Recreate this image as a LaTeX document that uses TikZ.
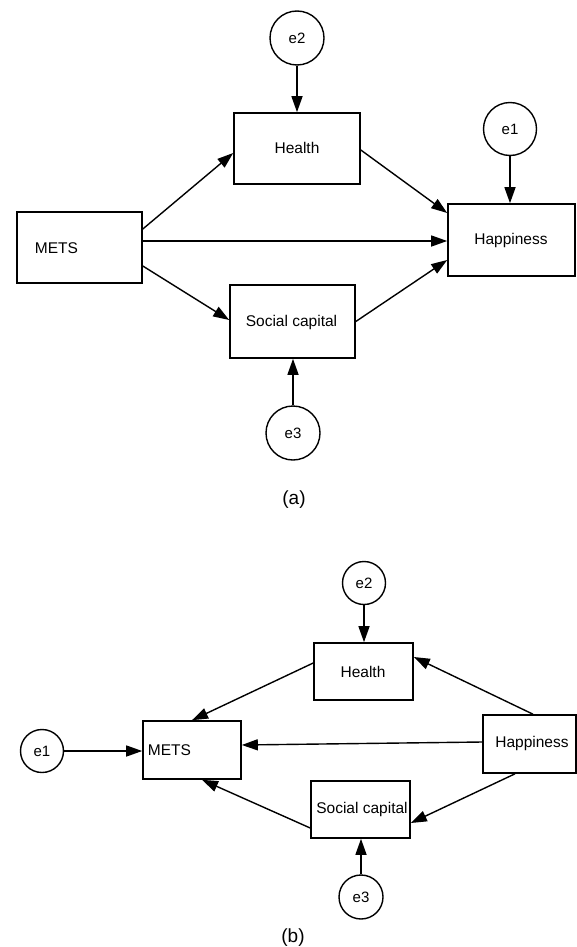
\documentclass[tikz,border=0pt]{standalone}
\usepackage{fontspec}
\setmainfont{Liberation Sans}
\usetikzlibrary{arrows.meta}
\begin{document}
\begin{tikzpicture}[x=1pt,y=-1pt,
  box/.style={draw, line width=1.6pt, rectangle, inner sep=0pt},
  err/.style={draw, line width=1.4pt, circle, inner sep=0pt, font=\fontsize{15}{18}\selectfont},
  lbl/.style={inner sep=0pt, font=\fontsize{15.5}{18}\selectfont},
  captext/.style={inner sep=0pt, font=\fontsize{19}{22}\selectfont},
  arr/.style={line width=1.4pt, -{Triangle[length=16pt,width=11pt]}}]
\useasboundingbox (0,0) rectangle (576,947);
% ---------- (a) ----------
\node[box, minimum width=125pt, minimum height=71pt] (metsA) at (79.5,247.5) {};
\node[lbl] (metsAt) at (56.5,248) {METS};
\node[box, minimum width=126pt, minimum height=71pt] (healthA) at (297,148.5) {};
\node[lbl] (healthAt) at (297,148) {Health};
\node[box, minimum width=127pt, minimum height=72pt] (happyA) at (511.5,240) {};
\node[lbl] (happyAt) at (511,240) {Happiness};
\node[box, minimum width=125pt, minimum height=73pt] (socA) at (292.5,321.5) {};
\node[lbl] (socAt) at (291.5,322) {Social capital};
\node[err, minimum size=54pt] (e2A) at (297,38) {e2};
\node[err, minimum size=53pt] (e1A) at (510,129) {e1};
\node[err, minimum size=54pt] (e3A) at (293,433) {e3};
\node[captext] (capA) at (294,500) {(a)};
\draw[arr] ([yshift=18.5pt]metsA.east) -- ([yshift=-4.5pt]healthA.west);
\draw[arr] ([yshift=6.5pt]metsA.east) -- ([yshift=-1pt]happyA.west);
\draw[arr] ([yshift=-18.5pt]metsA.east) -- ([yshift=1.5pt]socA.west);
\draw[arr] ([yshift=-1.5pt]healthA.east) -- ([yshift=27pt]happyA.west);
\draw[arr] (socA.east) -- ([yshift=-20pt]happyA.west);
\draw[arr] (e2A.south) -- (healthA.north);
\draw[arr] (e1A.south) -- (e1A.south |- happyA.north);
\draw[arr] (e3A.north) -- (e3A.north |- socA.south);
% ---------- (b) ----------
\node[box, minimum width=98pt, minimum height=58pt] (metsB) at (192,750) {};
\node[lbl] (metsBt) at (169.5,750) {METS};
\node[box, minimum width=99pt, minimum height=57pt] (healthB) at (363.5,671.5) {};
\node[lbl] (healthBt) at (363,672) {Health};
\node[box, minimum width=93pt, minimum height=58pt] (happyB) at (529.5,744) {};
\node[lbl] (happyBt) at (532,743) {Happiness};
\node[box, minimum width=99pt, minimum height=57pt] (socB) at (360.5,809.5) {};
\node[lbl] (socBt) at (362,809) {Social capital};
\node[err, minimum size=43pt] (e2B) at (364,583) {e2};
\node[err, minimum size=43pt] (e1B) at (42,751) {e1};
\node[err, minimum size=44pt] (e3B) at (361,897) {e3};
\node[captext] (capB) at (293,938) {(b)};
\draw[arr] (e2B.south) -- (e2B.south |- healthB.north);
\draw[arr] (e1B.east) -- (e1B.east -| metsB.west);
\draw[arr] (e3B.north) -- (e3B.north |- socB.south);
\draw[arr] ([yshift=2pt]happyB.west) -- ([yshift=5pt]metsB.east);
\draw[arr] ([xshift=3.5pt]happyB.north) -- ([yshift=14.5pt]healthB.east);
\draw[arr] ([xshift=-14.5pt]happyB.south) -- ([yshift=-13.5pt]socB.east);
\draw[arr] ([yshift=8.5pt]healthB.west) -- (metsB.north);
\draw[arr] ([yshift=-18.5pt]socB.west) -- ([xshift=10pt]metsB.south);
\end{tikzpicture}
\end{document}
